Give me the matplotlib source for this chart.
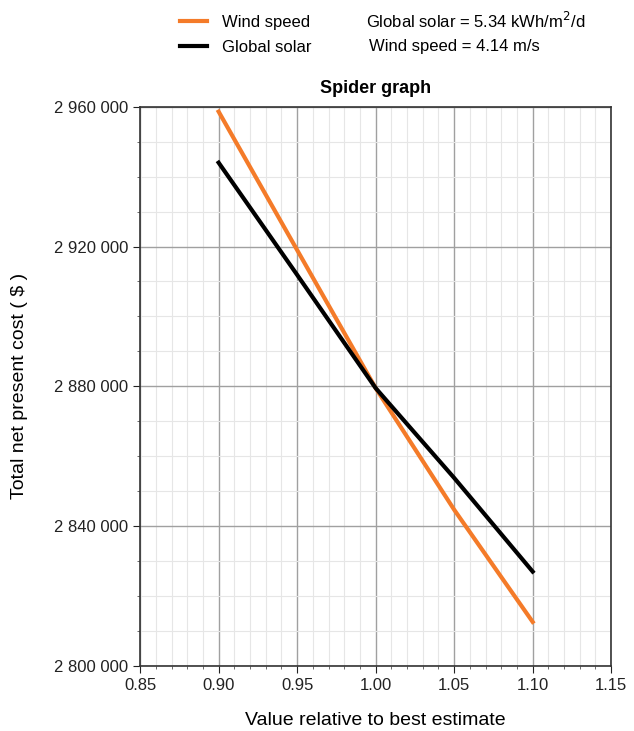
import numpy as np
import matplotlib.pyplot as plt
from matplotlib.ticker import MultipleLocator, FuncFormatter

plt.rcParams['font.family'] = ['Liberation Sans', 'DejaVu Sans']

rel = [0.90, 0.95, 1.00, 1.05, 1.10]
wind_speed = [2958600, 2919000, 2879500, 2844700, 2812600]
global_solar = [2944000, 2911900, 2879500, 2853800, 2827000]

orange = '#f47b29'

fig = plt.figure(figsize=(6.34, 7.31), dpi=100)
ax = fig.add_axes([0.221, 0.089, 0.743, 0.765])

ax.plot(rel, wind_speed, color=orange, lw=3.0, label='Wind speed', zorder=3)
ax.plot(rel, global_solar, color='black', lw=3.0, label='Global solar', zorder=3)

ax.set_xlim(0.85, 1.15)
ax.set_ylim(2800000, 2960000)
ax.xaxis.set_major_locator(MultipleLocator(0.05))
ax.xaxis.set_minor_locator(MultipleLocator(0.01))
ax.yaxis.set_major_locator(MultipleLocator(40000))
ax.yaxis.set_minor_locator(MultipleLocator(10000))
ax.xaxis.set_major_formatter(FuncFormatter(lambda v, p: f'{v:.2f}'))
ax.yaxis.set_major_formatter(FuncFormatter(lambda v, p: f'{int(round(v)):,}'.replace(',', ' ')))

ax.grid(which='major', color='#a0a0a0', lw=1.0)
ax.grid(which='minor', color='#e6e6e6', lw=0.8)
ax.set_axisbelow(True)
ax.tick_params(which='major', direction='out', length=5, labelsize=12, colors='#222222')
ax.tick_params(which='minor', direction='out', length=2.5, colors='#555555')
for s in ax.spines.values():
    s.set_color('#333333')
    s.set_linewidth(1.2)

ax.set_title('Spider graph', fontsize=13, fontweight='bold', pad=10)
ax.set_xlabel('Value relative to best estimate', fontsize=14, labelpad=14)
ax.set_ylabel('Total net present cost ( \\$ )', fontsize=14, labelpad=19)

fig.legend(loc='upper left', bbox_to_anchor=(0.26, 1.0), frameon=False,
           fontsize=12, handlelength=1.6, handletextpad=0.9, labelspacing=0.6)
fig.text(0.578, 0.972, 'Global solar = 5.34 kWh/m$^2$/d', fontsize=12, va='center')
fig.text(0.582, 0.936, 'Wind speed = 4.14 m/s', fontsize=12, va='center')

fig.savefig('out.png', dpi=100)
